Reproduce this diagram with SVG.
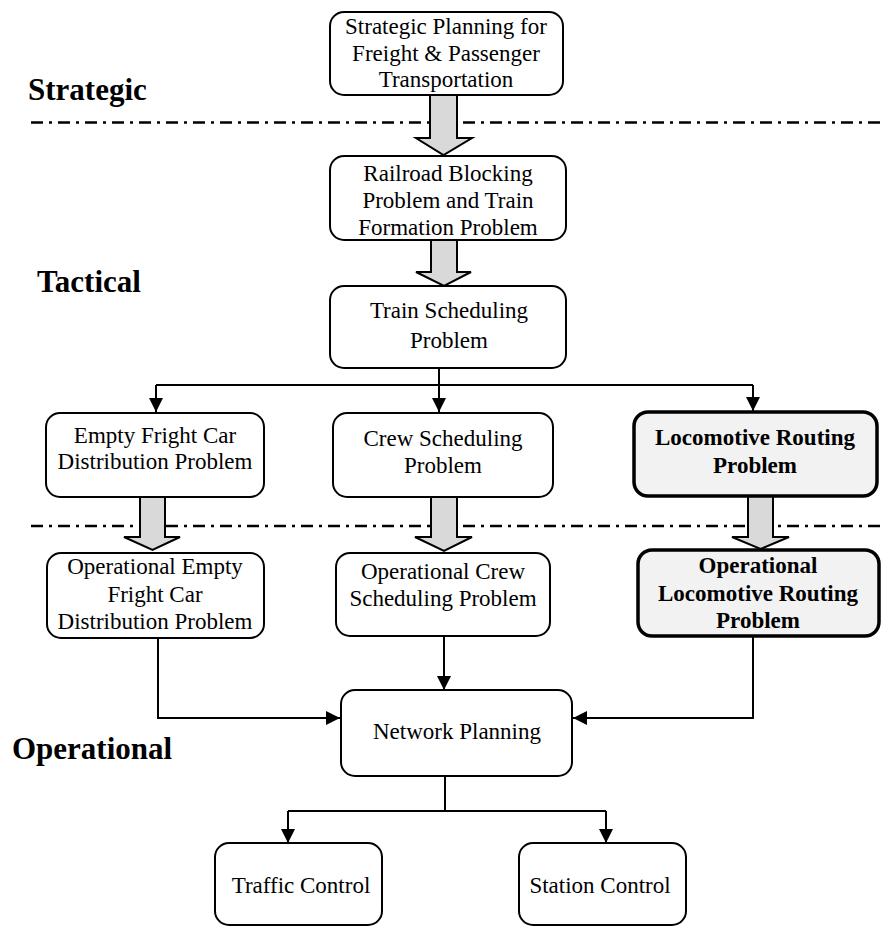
<svg xmlns="http://www.w3.org/2000/svg" width="884" height="926" viewBox="0 0 884 926">
<style>
.box{fill:#fff;stroke:#000;stroke-width:2}
.bold{fill:#f2f2f2;stroke:#000;stroke-width:3.5}
.t{font-family:"Liberation Serif","Times New Roman",serif;font-size:23px;fill:#000;text-anchor:middle}
.tb{font-family:"Liberation Serif","Times New Roman",serif;font-size:23px;font-weight:bold;fill:#000;text-anchor:middle}
.lab{font-family:"Liberation Serif","Times New Roman",serif;font-size:31px;font-weight:bold;fill:#000}
.dash{stroke:#000;stroke-width:2.5;stroke-dasharray:12 6 3 6;fill:none}
.ln{stroke:#000;stroke-width:2;fill:none}
.blk{fill:#d9d9d9;stroke:#000;stroke-width:2}
</style>
<defs>
<marker id="ah" markerUnits="userSpaceOnUse" markerWidth="14" markerHeight="14" refX="14" refY="7" orient="auto">
<path d="M0,0 L14,7 L0,14 z" fill="#000"/>
</marker>
</defs>

<g id="levels">
<line class="dash" x1="31" y1="122.5" x2="884" y2="122.5"/>
<line class="dash" x1="31" y1="526" x2="884" y2="526"/>
<text class="lab" x="28" y="100">Strategic</text>
<text class="lab" x="37" y="292">Tactical</text>
<text class="lab" x="12" y="759">Operational</text>
</g>

<g id="connectors">
<path class="blk" d="M430,95 L457,95 L457,138 L472,138 L443.5,155 L416,138 L430,138 z"/>
<path class="blk" d="M431,240 L457,240 L457,272 L471,272 L444,286 L416,272 L431,272 z"/>
<path class="blk" d="M140,497 L165,497 L165,537 L180,537 L152.5,550 L124,537 L140,537 z"/>
<path class="blk" d="M431,497 L457,497 L457,537 L472,537 L444,551 L415,537 L431,537 z"/>
<path class="blk" d="M748,496 L773,496 L773,537 L789,537 L760.5,549 L732,537 L748,537 z"/>
<path class="ln" d="M439,368 L439,385"/>
<path class="ln" d="M156,385 L753,385"/>
<path class="ln" d="M156,385 L156,412" marker-end="url(#ah)"/>
<path class="ln" d="M439,385 L439,412" marker-end="url(#ah)"/>
<path class="ln" d="M753,385 L753,411" marker-end="url(#ah)"/>
<path class="ln" d="M158,638 L158,718 L340,718" marker-end="url(#ah)"/>
<path class="ln" d="M444,636 L444,690" marker-end="url(#ah)"/>
<path class="ln" d="M753,636 L753,718 L573,718" marker-end="url(#ah)"/>
<path class="ln" d="M445,776 L445,811"/>
<path class="ln" d="M288,811 L606,811"/>
<path class="ln" d="M288,811 L288,843" marker-end="url(#ah)"/>
<path class="ln" d="M606,811 L606,843" marker-end="url(#ah)"/>
</g>

<g id="strategic-planning">
<rect class="box" x="330" y="12" width="233" height="83" rx="14"/>
<text class="t" x="446" y="34">Strategic Planning for</text>
<text class="t" x="446" y="61">Freight &amp; Passenger</text>
<text class="t" x="446" y="87">Transportation</text>
</g>

<g id="railroad-blocking">
<rect class="box" x="330" y="156" width="236" height="84" rx="14"/>
<text class="t" x="448" y="181">Railroad Blocking</text>
<text class="t" x="448" y="208">Problem and Train</text>
<text class="t" x="448" y="235">Formation Problem</text>
</g>

<g id="train-scheduling">
<rect class="box" x="330" y="286" width="236" height="82" rx="14"/>
<text class="t" x="449" y="318">Train Scheduling</text>
<text class="t" x="449" y="348">Problem</text>
</g>

<g id="empty-fright">
<rect class="box" x="46" y="413" width="218" height="84" rx="14"/>
<text class="t" x="155" y="443">Empty Fright Car</text>
<text class="t" x="155" y="469">Distribution Problem</text>
</g>

<g id="crew-scheduling">
<rect class="box" x="333" y="413" width="220" height="84" rx="14"/>
<text class="t" x="443" y="446">Crew Scheduling</text>
<text class="t" x="443" y="473">Problem</text>
</g>

<g id="locomotive-routing">
<rect class="bold" x="634" y="412" width="243" height="84" rx="14"/>
<text class="tb" x="755" y="445">Locomotive Routing</text>
<text class="tb" x="755" y="473">Problem</text>
</g>

<g id="op-empty-fright">
<rect class="box" x="47" y="553" width="217" height="85" rx="14"/>
<text class="t" x="155" y="574">Operational Empty</text>
<text class="t" x="155" y="602">Fright Car</text>
<text class="t" x="155" y="629">Distribution Problem</text>
</g>

<g id="op-crew-scheduling">
<rect class="box" x="336" y="553" width="214" height="83" rx="14"/>
<text class="t" x="443" y="579">Operational Crew</text>
<text class="t" x="443" y="606">Scheduling Problem</text>
</g>

<g id="op-locomotive-routing">
<rect class="bold" x="638" y="550" width="241" height="86" rx="14"/>
<text class="tb" x="758" y="573">Operational</text>
<text class="tb" x="758" y="601">Locomotive Routing</text>
<text class="tb" x="758" y="628">Problem</text>
</g>

<g id="network-planning">
<rect class="box" x="341" y="690" width="231" height="86" rx="14"/>
<text class="t" x="457" y="739">Network Planning</text>
</g>

<g id="traffic-control">
<rect class="box" x="215" y="843" width="167" height="82" rx="14"/>
<text class="t" x="301" y="893">Traffic Control</text>
</g>

<g id="station-control">
<rect class="box" x="519" y="843" width="167" height="82" rx="14"/>
<text class="t" x="600" y="893">Station Control</text>
</g>
</svg>
